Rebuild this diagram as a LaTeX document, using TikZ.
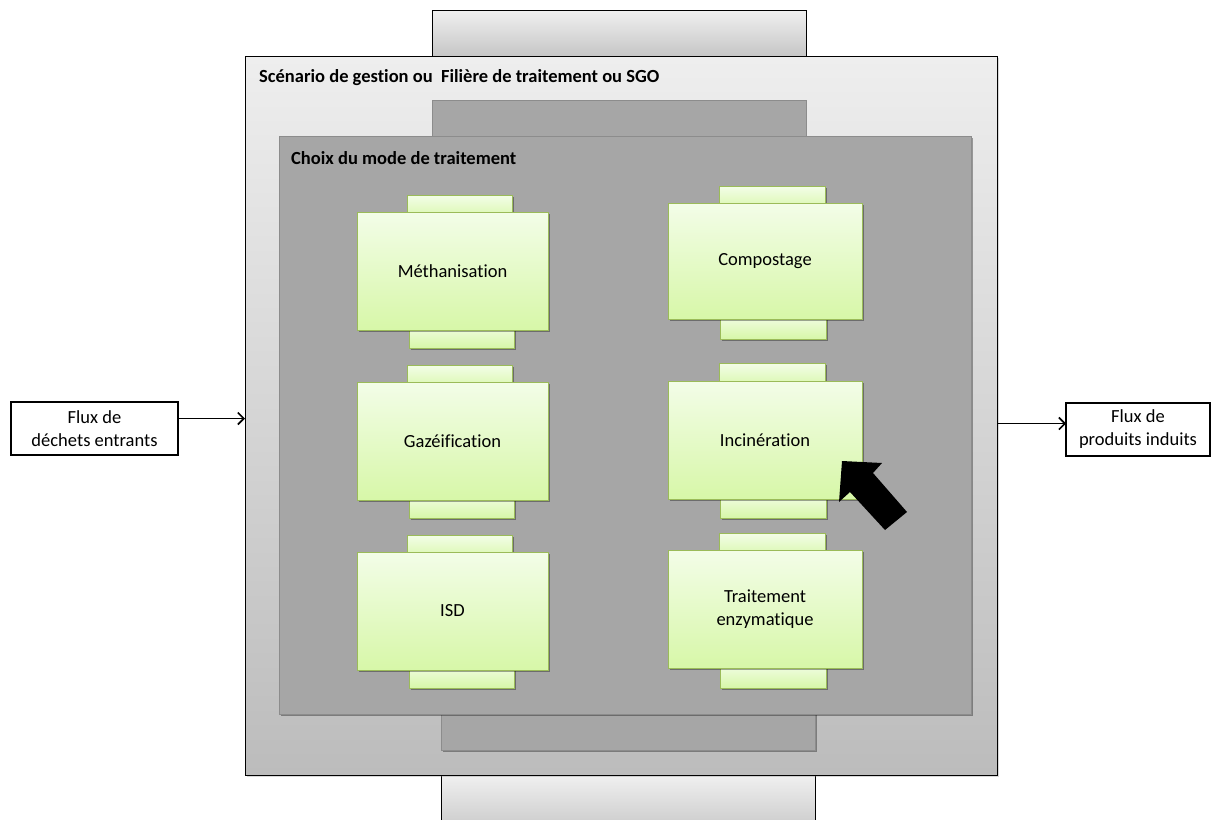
\documentclass[tikz,border=0pt]{standalone}
\usepackage{fontspec}
\setmainfont{Carlito}[Ligatures=NoCommon]
\usetikzlibrary{shadows,arrows.meta}
\definecolor{grnB}{HTML}{9BBB59}
\definecolor{grnT}{HTML}{F3FDE8}
\definecolor{grnD}{HTML}{D7F7A8}
\definecolor{innerF}{HTML}{A6A6A6}
\definecolor{innerB}{HTML}{8C8C8C}
\definecolor{outT}{HTML}{EEEEEE}
\definecolor{outD}{HTML}{BCBCBC}
\definecolor{tabT}{HTML}{F0F0F0}
\definecolor{tabD}{HTML}{C6C6C6}
\begin{document}
\begin{tikzpicture}[x=1pt,y=-1pt,
  box/.style={anchor=north west, inner sep=0pt, outer sep=0pt},
  txt/.style={font=\fontsize{18.5}{23}\selectfont},
  gshadow/.style={drop shadow={shadow xshift=1.5pt, shadow yshift=-1.5pt, opacity=0.35, fill=black}},
  gbox/.style={box, draw=grnB, line width=1pt, top color=grnT, bottom color=grnD, gshadow, txt, align=center},
  gtab/.style={box, draw=grnB, line width=1pt, top color=grnT, bottom color=grnD, gshadow},
  grayblk/.style={box, draw=innerB, line width=0.8pt, fill=innerF},
  fluxbox/.style={box, draw=black, line width=2.6pt, fill=white, txt, align=center},
  flow/.style={-{Straight Barb[length=6pt,width=12pt]}, line width=1.6pt},
  title/.style={anchor=west, inner sep=0pt, font=\bfseries\fontsize{18.5}{23}\selectfont}
]
\useasboundingbox (0,0) rectangle (1214,819);
\fill[white] (0,0) rectangle (1214,819);

% outer tabs and outer box
\node[box, draw=black, line width=0.8pt, top color=tabT, bottom color=tabD, minimum width=374pt, minimum height=46pt] (toptab) at (432,10) {};
\node[box, draw=black, line width=0.8pt, top color=tabT, bottom color=tabD, minimum width=374pt, minimum height=60pt] (bottab) at (441,775) {};
\node[box, draw=black, line width=0.8pt, top color=outT, bottom color=outD, minimum width=752pt, minimum height=719pt,
      drop shadow={shadow xshift=1.5pt, shadow yshift=-1.5pt, opacity=0.3}] (outer) at (245,56) {};
\node[title] (t1) at (259,78) {Scénario de gestion ou\ \ Filière de traitement ou SGO};

% inner tabs and inner box
\node[grayblk, minimum width=374pt, minimum height=40pt] (itop) at (432,100) {};
\node[grayblk, minimum width=374pt, minimum height=40pt, gshadow] (ibot) at (441,710) {};
\node[grayblk, minimum width=692pt, minimum height=578pt, gshadow] (inner) at (279,136) {};
\node[title] (t2) at (291,158) {Choix du mode de traitement};

% left column
\node[gtab, minimum width=105pt, minimum height=25pt] (methT) at (407,195) {};
\node[gtab, minimum width=105pt, minimum height=25pt] (methB) at (409,323) {};
\node[gbox, minimum width=191pt, minimum height=118pt] (meth) at (357,212) {Méthanisation};

\node[gtab, minimum width=105pt, minimum height=25pt] (gazT) at (407,365) {};
\node[gtab, minimum width=105pt, minimum height=25pt] (gazB) at (409,493) {};
\node[gbox, minimum width=191pt, minimum height=118pt] (gaz) at (357,382) {Gazéification};

\node[gtab, minimum width=105pt, minimum height=25pt] (isdT) at (407,535) {};
\node[gtab, minimum width=105pt, minimum height=25pt] (isdB) at (409,663) {};
\node[gbox, minimum width=191pt, minimum height=118pt] (isd) at (357,552) {ISD};

% right column
\node[gtab, minimum width=106pt, minimum height=25pt] (compT) at (719,186) {};
\node[gtab, minimum width=106pt, minimum height=25pt] (compB) at (720,314) {};
\node[gbox, minimum width=194pt, minimum height=116pt] (comp) at (668,203) {Compostage};

\node[gtab, minimum width=106pt, minimum height=25pt] (incT) at (719,363) {};
\node[gtab, minimum width=106pt, minimum height=25pt] (incB) at (720,493) {};
\node[gbox, minimum width=194pt, minimum height=118pt] (inc) at (668,381) {Incinération};

\node[gtab, minimum width=106pt, minimum height=25pt] (enzT) at (719,533) {};
\node[gtab, minimum width=106pt, minimum height=25pt] (enzB) at (720,663) {};
\node[gbox, minimum width=194pt, minimum height=118pt] (enz) at (668,550) {Traitement\\enzymatique};

% big pointer arrow
\fill[black] (842,461) -- (882,463) -- (873,473) -- (907,512) -- (885,530) -- (850,492) -- (839,502) -- cycle;

% flux boxes
\node[fluxbox, minimum width=167pt, minimum height=53pt] (inL) at (11,402) {Flux de\\déchets entrants};
\node[fluxbox, minimum width=144pt, minimum height=53pt] (outR) at (1066,403) {Flux de\\produits induits};
\coordinate (inLa) at ([yshift=10pt]inL.east);
\coordinate (outRa) at ([yshift=6pt]outR.west);
\draw[flow] (inLa) -- (inLa -| outer.west);
\draw[flow] (outRa -| outer.east) -- (outRa);
\end{tikzpicture}
\end{document}
